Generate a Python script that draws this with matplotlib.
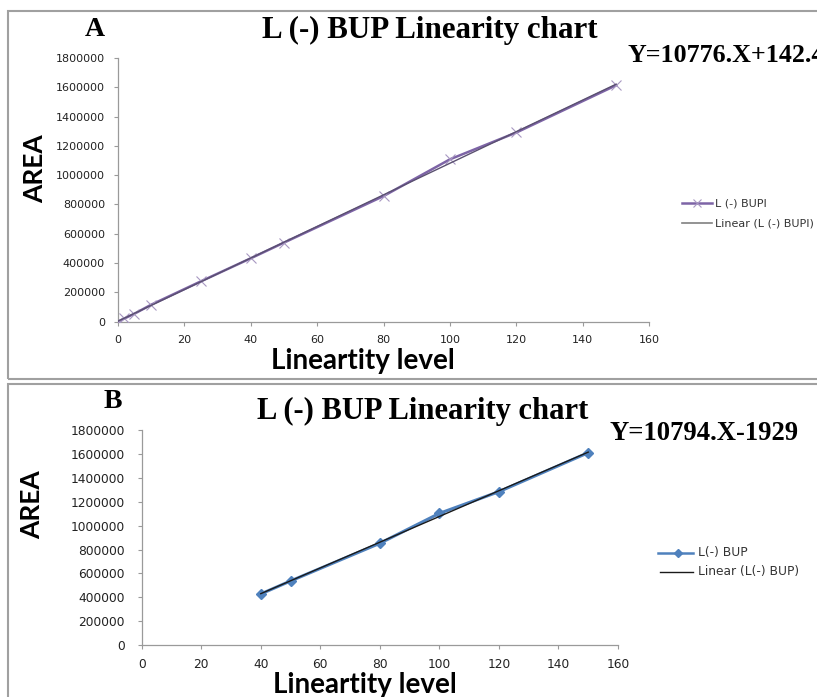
import numpy as np
import matplotlib
matplotlib.use("Agg")
import matplotlib.pyplot as plt
from matplotlib.patches import Rectangle
from matplotlib.lines import Line2D

# ---------------- data ----------------
level_a = [0, 2, 5, 10, 25, 40, 50, 80, 100, 120, 150]
area_a = [0, 22000, 54000, 115000, 275000, 432000, 539000, 857000, 1108000, 1291000, 1613000]
level_b = [40, 50, 80, 100, 120, 150]
area_b = [428000, 537000, 853000, 1104000, 1286000, 1613000]
x_ticks = [0, 20, 40, 60, 80, 100, 120, 140, 160]
y_ticks = [0, 200000, 400000, 600000, 800000, 1000000, 1200000, 1400000, 1600000, 1800000]
title = "L (-) BUP Linearity chart"
eq_a = "Y=10776.X+142.4"
eq_b = "Y=10794.X-1929"
legend_a = ["L (-) BUPI", "Linear (L (-) BUPI)"]
legend_b = ["L(-) BUP", "Linear (L(-) BUP)"]

W, H = 817, 697
fig = plt.figure(figsize=(W / 100, H / 100), dpi=100)

def fx(px):
    return px / W

def fy(py):
    return 1 - py / H

def make_axes(l, r, t, b):
    return fig.add_axes([fx(l), fy(b), fx(r) - fx(l), fy(t) - fy(b)])

serif = "Liberation Serif"
sans_bold = "Lato"
tick_color = "#222222"

# panel borders
fig.patches.append(Rectangle((fx(7.5), fy(379)), 1.2, fy(11.5) - fy(379),
                             transform=fig.transFigure, fill=False,
                             edgecolor="#a0a0a0", linewidth=1.5))
fig.patches.append(Rectangle((fx(7.5), fy(700)), 1.2, fy(384) - fy(700),
                             transform=fig.transFigure, fill=False,
                             edgecolor="#a0a0a0", linewidth=1.5))

def style(ax, size, xpad, ypad):
    ax.set_xlim(0, 160)
    ax.set_ylim(0, 1800000)
    ax.set_xticks(x_ticks)
    ax.set_yticks(y_ticks)
    ax.set_xticklabels([str(v) for v in x_ticks])
    ax.set_yticklabels([str(v) for v in y_ticks])
    for s in ["top", "right"]:
        ax.spines[s].set_visible(False)
    for s in ["left", "bottom"]:
        ax.spines[s].set_color("#9a9a9a")
        ax.spines[s].set_linewidth(0.9)
    ax.tick_params(axis="both", direction="out", length=3, width=0.8,
                   color="#9a9a9a", labelsize=size, labelcolor=tick_color)
    ax.tick_params(axis="x", pad=xpad)
    ax.tick_params(axis="y", pad=ypad)
    for lab in ax.get_xticklabels() + ax.get_yticklabels():
        lab.set_fontfamily("DejaVu Sans")
    ax.patch.set_alpha(0)

# ---------------- panel A ----------------
axA = make_axes(117.7, 649.3, 57.9, 321.7)
style(axA, 8.0, 6.3, 6.1)
ca = "#7d64a6"
axA.plot(level_a, area_a, color=ca, linewidth=1.8, marker="x",
         markersize=7, markeredgewidth=0.8, markeredgecolor="#a898c2", zorder=3)
pa = np.polyfit(level_a, area_a, 1)
xa = np.array([min(level_a), max(level_a)])
axA.plot(xa, np.polyval(pa, xa), color="#5a5070", linewidth=1.0, zorder=4)

fig.text(fx(95), fy(30), "A", fontfamily=serif, fontweight="bold",
         fontsize=20, ha="center", va="center")
fig.text(fx(430), fy(30), title, fontfamily=serif, fontweight="bold",
         fontsize=22.3, ha="center", va="center")
fig.text(fx(627), fy(55), eq_a, fontfamily=serif, fontweight="bold",
         fontsize=18.7, ha="left", va="center")
fig.text(fx(35), fy(169), "AREA", fontfamily=sans_bold, fontweight="bold",
         fontsize=19, rotation=90, ha="center", va="center")
fig.text(fx(363), fy(361), "Lineartity level", fontfamily=sans_bold,
         fontweight="bold", fontsize=20, ha="center", va="center")

# legend A
fig.add_artist(Line2D([fx(682), fx(712)], [fy(203), fy(203)], color=ca,
                      linewidth=1.8, transform=fig.transFigure))
fig.add_artist(Line2D([fx(697)], [fy(203)], color=ca, linestyle="none",
                      marker="x", markersize=6, markeredgecolor="#a898c2",
                      markeredgewidth=0.8, transform=fig.transFigure))
fig.add_artist(Line2D([fx(682), fx(712)], [fy(223), fy(223)],
                      color="#808080", linewidth=1.2,
                      transform=fig.transFigure))
fig.text(fx(715), fy(203), legend_a[0], fontsize=8.0, color="#333333",
         ha="left", va="center")
fig.text(fx(715), fy(223), legend_a[1], fontsize=8.0, color="#333333",
         ha="left", va="center")

# ---------------- panel B ----------------
axB = make_axes(141.7, 618, 430.4, 645)
style(axB, 8.8, 6.0, 9.2)
cb = "#4f81bd"
axB.plot(level_b, area_b, color=cb, linewidth=2.2, marker="D",
         markersize=5, zorder=3)
pb = np.polyfit(level_b, area_b, 1)
xb = np.array([min(level_b), max(level_b)])
axB.plot(xb, np.polyval(pb, xb), color="#1a1a1a", linewidth=1.0, zorder=4)

fig.text(fx(113), fy(401), "B", fontfamily=serif, fontweight="bold",
         fontsize=20, ha="center", va="center")
fig.text(fx(422.5), fy(411), title, fontfamily=serif, fontweight="bold",
         fontsize=22.0, ha="center", va="center")
fig.text(fx(609), fy(433), eq_b, fontfamily=serif, fontweight="bold",
         fontsize=19.2, ha="left", va="center")
fig.text(fx(32), fy(505), "AREA", fontfamily=sans_bold, fontweight="bold",
         fontsize=19, rotation=90, ha="center", va="center")
fig.text(fx(365), fy(685), "Lineartity level", fontfamily=sans_bold,
         fontweight="bold", fontsize=20, ha="center", va="center")

# legend B
fig.add_artist(Line2D([fx(658), fx(693)], [fy(552.5), fy(552.5)], color=cb,
                      linewidth=1.8, transform=fig.transFigure))
fig.add_artist(Line2D([fx(678)], [fy(552.5)], color=cb, linestyle="none",
                      marker="D", markersize=4, transform=fig.transFigure))
fig.add_artist(Line2D([fx(660), fx(693)], [fy(571.5), fy(571.5)],
                      color="#1a1a1a", linewidth=1.0,
                      transform=fig.transFigure))
fig.text(fx(698), fy(552.5), legend_b[0], fontsize=8.8, color="#333333",
         ha="left", va="center")
fig.text(fx(698), fy(571.5), legend_b[1], fontsize=8.8, color="#333333",
         ha="left", va="center")

fig.savefig("out.png", dpi=100)
